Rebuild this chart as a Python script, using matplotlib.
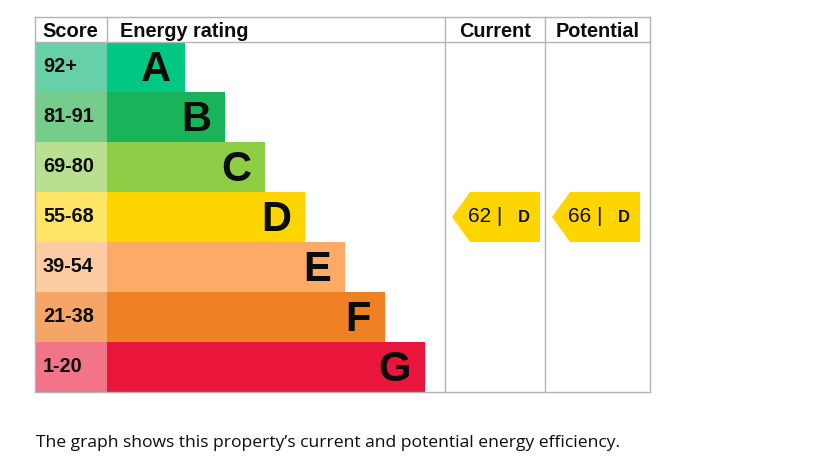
import matplotlib
matplotlib.use("Agg")
import matplotlib.pyplot as plt
from matplotlib.patches import Rectangle, Polygon

# EPC bands
bands = ["A", "B", "C", "D", "E", "F", "G"]
score_ranges = ["92+", "81-91", "69-80", "55-68", "39-54", "21-38", "1-20"]
band_colors = ["#00c781", "#19b459", "#8dce46", "#ffd500", "#fcaa65", "#ef8023", "#e9153b"]
score_colors = ["#66d1a9", "#75cc8b", "#b9e090", "#ffe566", "#fdcca2", "#f5a667", "#f27489"]

current_score, current_band = 62, "D"
potential_score, potential_band = 66, "D"
footnote = "The graph shows this property\u2019s current and potential energy efficiency."

W, H = 823, 470
fig = plt.figure(figsize=(W / 100, H / 100), dpi=100)
ax = fig.add_axes([0, 0, 1, 1])
ax.set_xlim(0, W)
ax.set_ylim(H, 0)
ax.axis("off")

left, score_w, top, head_h, row_h = 35, 72, 17, 25, 50
bar_x = left + score_w
bar_base, bar_step = 78, 40
cur_x, pot_x, right = 445, 545, 650
bottom = top + head_h + row_h * len(bands)
grid = "#b1b4b6"
font = "Liberation Sans"
ink = "#0b0c0c"

# header
hy = top + head_h / 2 + 2
ax.text(left + 7, hy, "Score", fontsize=14.5, fontweight="bold",
        family=font, va="center", ha="left", color=ink)
ax.text(bar_x + 13, hy, "Energy rating", fontsize=14.3, fontweight="bold",
        family=font, va="center", ha="left", color=ink)
ax.text((cur_x + pot_x) / 2, hy, "Current", fontsize=14.3, fontweight="bold",
        family=font, va="center", ha="center", color=ink)
ax.text((pot_x + right) / 2, hy, "Potential", fontsize=14.3, fontweight="bold",
        family=font, va="center", ha="center", color=ink)

for i, (b, s) in enumerate(zip(bands, score_ranges)):
    y0 = top + head_h + i * row_h
    ax.add_patch(Rectangle((left, y0), score_w, row_h, color=score_colors[i], lw=0))
    blen = bar_base + i * bar_step
    ax.add_patch(Rectangle((bar_x, y0), blen, row_h, color=band_colors[i], lw=0))
    ax.text(left + 8, y0 + row_h / 2 - 1, s, fontsize=14.3, fontweight="bold", family=font,
            va="center", ha="left", color=ink)
    ax.text(bar_x + blen - 14, y0 + row_h / 2 + 3, b, fontsize=30, fontweight="bold",
            family=font, va="center", ha="right", color=ink)

# grid lines
lw = 1.0
ax.plot([left, right], [top, top], color=grid, lw=lw)
ax.plot([left, right], [top + head_h, top + head_h], color=grid, lw=lw)
ax.plot([left, right], [bottom, bottom], color=grid, lw=lw)
for x in [left, bar_x, cur_x, pot_x, right]:
    y_end = top + head_h if x == bar_x else bottom
    ax.plot([x, x], [top, y_end], color=grid, lw=lw)


def arrow(x0, x1, score, band):
    i = bands.index(band)
    y0 = top + head_h + i * row_h
    tip = 18
    pts = [(x0, y0 + row_h / 2), (x0 + tip, y0), (x1, y0), (x1, y0 + row_h), (x0 + tip, y0 + row_h)]
    ax.add_patch(Polygon(pts, closed=True, color=band_colors[i], lw=0))
    ax.text(x0 + 16, y0 + row_h / 2, f"{score} |", fontsize=15, family=font,
            va="center", ha="left", color=ink)
    ax.text(x1 - 16, y0 + row_h / 2 + 1, band, fontsize=12, fontweight="bold", family=font,
            va="center", ha="center", color=ink)


arrow(cur_x + 7, cur_x + 95, current_score, current_band)
arrow(pot_x + 7, pot_x + 95, potential_score, potential_band)

ax.text(left + 1, 443, footnote, fontsize=12.6, family="Open Sans", va="center", ha="left",
        color=ink)

fig.savefig("out.png", dpi=100)
